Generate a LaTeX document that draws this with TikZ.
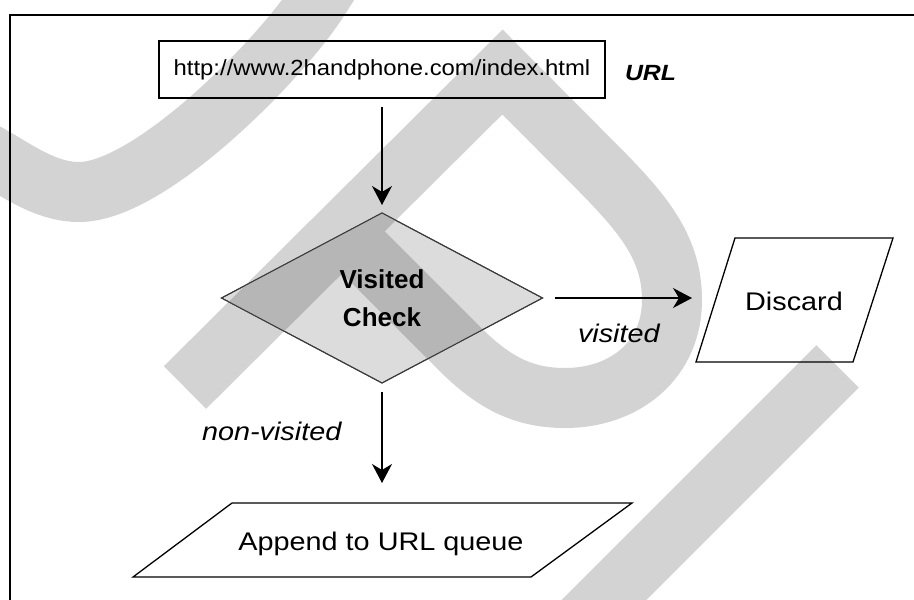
\documentclass[tikz,border=0pt]{standalone}
\usepackage{fontspec}
\setmainfont{Liberation Sans}
\newfontfamily\wideface[FakeStretch=1.13]{Liberation Sans}
\newfontfamily\urlface[FakeStretch=1.09]{Liberation Sans}
\usetikzlibrary{arrows.meta,shapes.geometric}

\definecolor{bandgray}{HTML}{D3D3D3}
\definecolor{bandover}{HTML}{B6B6B6}
\definecolor{decfill}{HTML}{DCDCDC}
\definecolor{decline}{HTML}{3C3C3C}

% broad grey brush strokes lying across the chart
\newcommand{\bandA}{(341.6,-36) -- (318.5,0) .. controls (280,60) and (150,192) .. (79,192) .. controls (50,192) and (25,176) .. (0,161) -- (-34.6,141)}
\newcommand{\bandB}{(185,387.5) -- (502.5,72) -- (590,160) .. controls (640,210) and (672,245) .. (672,300) .. controls (672,360) and (625,398) .. (565,398) .. controls (520,398) and (490,380) .. (455,344) -- (341.75,230.75)}
\newcommand{\bandC}{(837.5,366.5) -- (537.5,666.5)}

\tikzset{
  band/.style={draw=bandgray, line width=60pt, line cap=butt, line join=miter},
  bandshade/.style={draw=bandover, line width=60pt, line cap=butt, line join=miter},
  frameline/.style={line width=1.4pt, black},
  urlbox/.style={draw, line width=1.3pt, minimum width=446pt, minimum height=57pt,
    inner sep=0pt, outer sep=0pt, font=\urlface\fontsize{21.9}{26}\selectfont},
  decision/.style={shape=diamond, draw=decline, line width=1pt, fill=decfill,
    minimum width=321pt, minimum height=170pt, inner sep=0pt, outer sep=0pt},
  decisiontext/.style={font=\fontsize{26}{38}\selectfont\bfseries, align=center, inner sep=0pt},
  iobox/.style={draw, line width=1.3pt, line join=miter},
  lbl/.style={font=\wideface\fontsize{25.5}{30}\selectfont, inner sep=0pt, outer sep=0pt},
  edgelbl/.style={font=\wideface\fontsize{25.5}{30}\selectfont\itshape, inner sep=0pt, outer sep=0pt},
  tag/.style={font=\wideface\fontsize{22}{26}\selectfont\bfseries\itshape, inner sep=0pt, outer sep=0pt},
  arr/.style={-{Stealth[length=19pt,width=20pt,inset=6pt]}, line width=1.3pt},
}

\begin{document}
\begin{tikzpicture}[x=1pt, y=-1pt]
  \useasboundingbox (0,0) rectangle (914,600);
  \fill[white] (0,0) rectangle (914,600);
  \clip (0,0) rectangle (914,600);

  % brush strokes
  \draw[band] \bandA;
  \draw[band] \bandB;
  \draw[band] \bandC;

  % outer frame
  \draw[frameline] (10,610) -- (10,15) -- (924,15);

  % URL box and its tag
  \node[urlbox] (url) at (382,69.5) {http://www.2handphone.com/index.html};
  \node[tag, anchor=base west] (urltag) at (625,80) {URL};

  % decision diamond, darker where a stroke crosses it
  \node[decision] (check) at (382,298) {};
  \begin{scope}
    \clip (check.north) -- (check.east) -- (check.south) -- (check.west) -- cycle;
    \draw[bandshade] \bandB;
  \end{scope}
  \draw[decline, line width=1pt] (check.north) -- (check.east) -- (check.south) -- (check.west) -- cycle;
  \node[decisiontext] (checklabel) at (check.center) {Visited\\Check};

  % Discard parallelogram
  \draw[iobox] (735,238) -- (893,238) -- (853,362) -- (696,362) -- cycle;
  \node[lbl, anchor=base] (discard) at (794,310) {Discard};
  \coordinate (discardin) at (692,298);

  % Append parallelogram
  \draw[iobox] (232,503) -- (632,503) -- (531,577) -- (133,577) -- cycle;
  \node[lbl, anchor=base] (append) at (381,550.7) {Append to URL queue};
  \coordinate (appendin) at (382,483);

  % connectors
  \draw[arr, shorten <=9pt, shorten >=8pt] (url.south) -- (check.north);
  \draw[arr, shorten <=12pt] (check.east) -- (discardin);
  \draw[arr, shorten <=9pt] (check.south) -- (appendin);

  % branch labels
  \node[edgelbl, anchor=base west] (lvisited) at (578,342) {visited};
  \node[edgelbl, anchor=base west] (lnonvisited) at (202,440.7) {non-visited};
\end{tikzpicture}
\end{document}
